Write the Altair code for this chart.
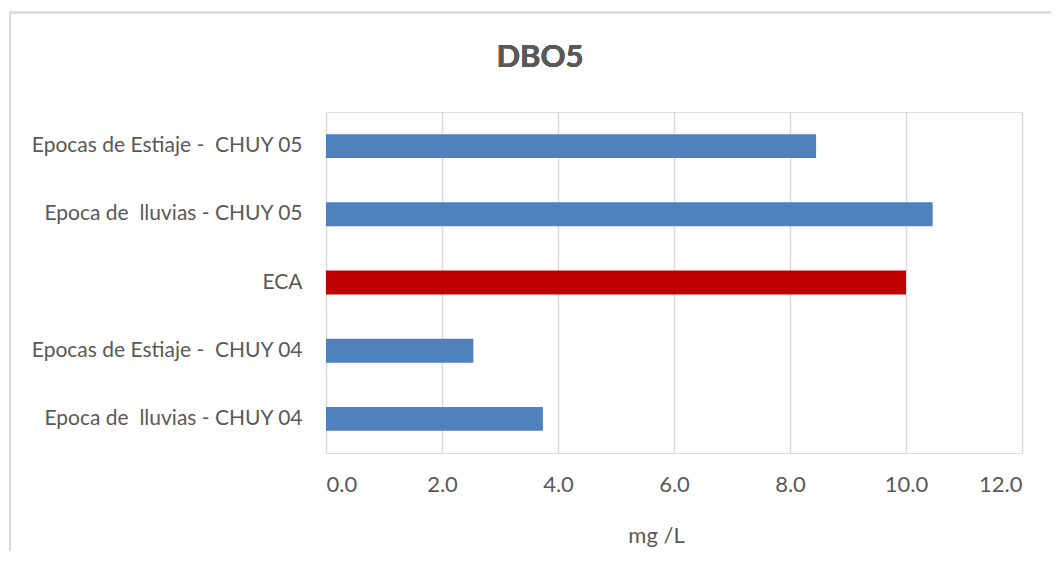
import altair as alt
import pandas as pd

categories = [
    "Epocas de Estiaje -\u00a0 CHUY 05",
    "Epoca de\u00a0 lluvias - CHUY 05",
    "ECA",
    "Epocas de Estiaje -\u00a0 CHUY 04",
    "Epoca de\u00a0 lluvias - CHUY 04",
]
values = [8.45, 10.46, 10.0, 2.54, 3.74]
bar_colors = ["#4F81BD", "#4F81BD", "#C00000", "#4F81BD", "#4F81BD"]
x_ticks = [0, 2, 4, 6, 8, 10, 12]
chart_title = "DBO5"
x_title = "mg /L"

df = pd.DataFrame({"cat": categories, "val": values, "col": bar_colors})

FONT = "Lato"
TXT = "#595959"
GRID = "#D9D9D9"

bars = alt.Chart(df).mark_bar().encode(
    x=alt.X(
        "val:Q",
        scale=alt.Scale(domain=[0, 12], nice=False),
        axis=alt.Axis(
            values=x_ticks,
            format=".1f",
            title=x_title,
            grid=True,
            gridColor=GRID,
            gridWidth=1.5,
            domain=False,
            ticks=False,
            labelFontSize=22,
            labelColor=TXT,
            labelFont=FONT,
            labelPadding=21,
            titleFontSize=22,
            titleFontWeight="normal",
            titleColor=TXT,
            titleFont=FONT,
            titleX=330,
            titleY=89,
            titleAlign="center",
            titleBaseline="alphabetic",
        ),
    ),
    y=alt.Y(
        "cat:N",
        sort=categories,
        scale=alt.Scale(paddingInner=0.65, paddingOuter=0.325),
        axis=alt.Axis(
            title=None,
            domain=False,
            ticks=False,
            grid=False,
            labelFontSize=21,
            labelColor=TXT,
            labelFont=FONT,
            labelPadding=24,
            labelLimit=400,
        ),
    ),
    color=alt.Color("col:N", scale=None, legend=None),
)

frame = alt.Chart(df).mark_rect(fill=None, stroke=GRID, strokeWidth=1.5).encode(
    x=alt.value(-316), x2=alt.value(1500), y=alt.value(-99.5), y2=alt.value(1500)
)

title_text = alt.Chart(df).mark_text(
    fontSize=31, fontWeight="bold", color=TXT, font=FONT,
    align="center", baseline="alphabetic",
).encode(
    x=alt.value(214), y=alt.value(-45), text=alt.value(chart_title)
)

chart = alt.layer(frame, bars, title_text).properties(
    width=696,
    height=341,
    autosize=alt.AutoSizeParams(type="none"),
    padding={"left": 318, "top": 104, "right": 29, "bottom": 98},
).configure_view(stroke=None).configure(background="white")

chart.save("out.html", embed_options={"renderer": "svg", "actions": False})
